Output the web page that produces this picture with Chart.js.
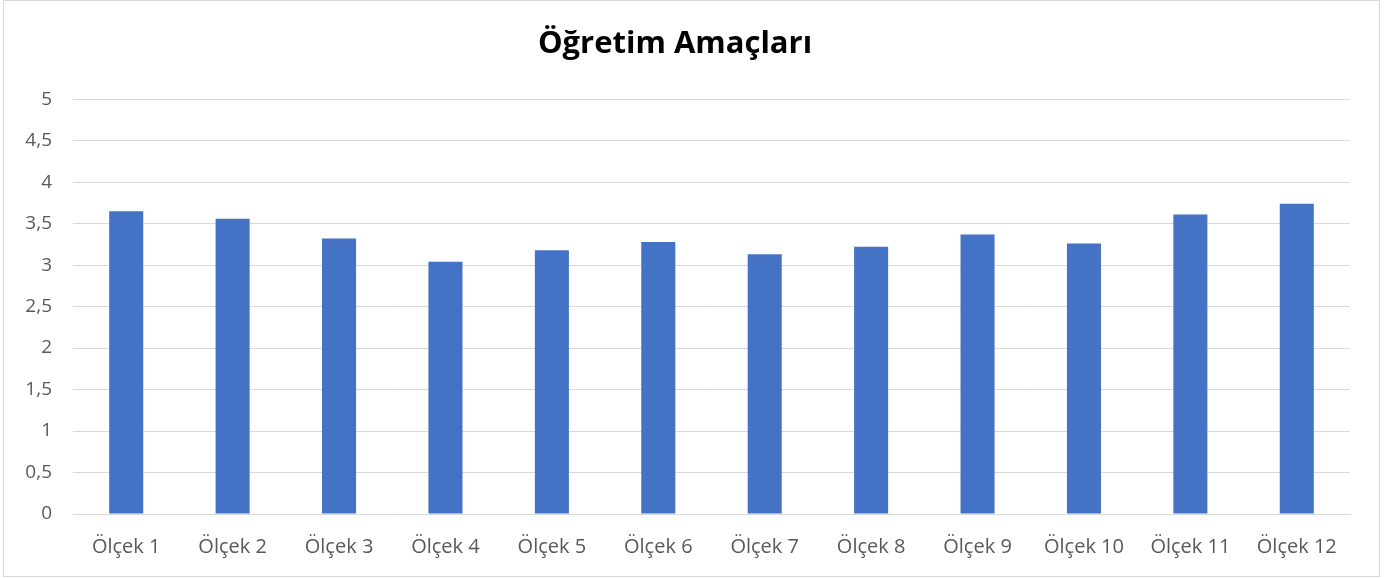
<!DOCTYPE html>
<html>
<head>
<meta charset="utf-8">
<script src="https://cdn.jsdelivr.net/npm/chart.js@4/dist/chart.umd.min.js"></script>
<style>
html,body{margin:0;padding:0;background:#fff;}
#wrap{position:absolute;left:0;top:0;width:1393px;height:578px;}
</style>
</head>
<body>
<div id="wrap"><canvas id="c" width="1393" height="578"></canvas></div>
<script>
const categories = ['Ölçek 1','Ölçek 2','Ölçek 3','Ölçek 4','Ölçek 5','Ölçek 6','Ölçek 7','Ölçek 8','Ölçek 9','Ölçek 10','Ölçek 11','Ölçek 12'];
const values = [3.65, 3.56, 3.32, 3.04, 3.18, 3.28, 3.13, 3.22, 3.37, 3.26, 3.61, 3.74];
const yTickLabels = ['0','0,5','1','1,5','2','2,5','3','3,5','4','4,5','5'];
const chartTitle = 'Öğretim Amaçları';

const frame = {
  id: 'frame',
  afterDraw(chart) {
    const ctx = chart.ctx;
    ctx.save();
    ctx.strokeStyle = '#d9d9d9';
    ctx.lineWidth = 1;
    ctx.strokeRect(3.5, 0.5, 1376, 576);
    ctx.restore();
  }
};

new Chart(document.getElementById('c'), {
  type: 'bar',
  data: {
    labels: categories,
    datasets: [{
      data: values,
      backgroundColor: '#4472c4',
      borderWidth: 0,
      barPercentage: 0.32,
      categoryPercentage: 1
    }]
  },
  options: {
    responsive: false,
    animation: false,
    devicePixelRatio: 1,
    layout: { padding: { left: 0, right: 43, top: 0, bottom: 0 } },
    plugins: {
      legend: { display: false },
      tooltip: { enabled: false },
      title: {
        display: true,
        text: chartTitle,
        color: '#000000',
        font: { family: 'Open Sans', size: 31, weight: 'bold', lineHeight: 1.2 },
        padding: { top: 26, bottom: 36 }
      }
    },
    scales: {
      x: {
        grid: { display: false, drawTicks: false },
        border: { display: true, color: '#d9d9d9', width: 1 },
        ticks: { color: '#595959', font: { family: 'Open Sans', size: 20 }, padding: 21, maxRotation: 0, autoSkip: false },
        afterFit(s) { s.height = 64; }
      },
      y: {
        min: 0, max: 5,
        grid: { color: '#d9d9d9', lineWidth: 1, drawTicks: false },
        border: { display: false },
        ticks: {
          stepSize: 0.5,
          color: '#595959',
          font: { family: 'Open Sans', size: 19 },
          padding: 21,
          callback: (v, i) => yTickLabels[i]
        },
        afterFit(s) { s.width = 73; }
      }
    }
  },
  plugins: [frame]
});
</script>
</body>
</html>
